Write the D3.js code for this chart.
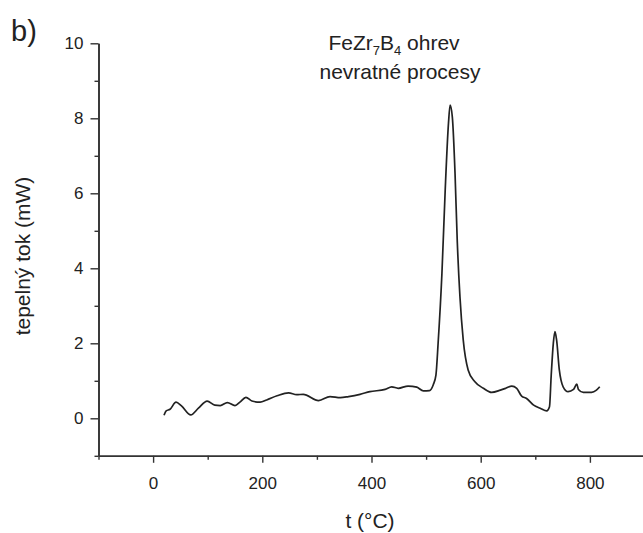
<!DOCTYPE html>
<html>
<head>
<meta charset="utf-8">
<script src="https://cdn.jsdelivr.net/npm/d3@7"></script>
<style>
  body { margin: 0; background: #fff; }
  svg text { font-family: "Liberation Sans", Arial, sans-serif; fill: #222; }
</style>
</head>
<body>
<svg id="chart" width="643" height="533"></svg>
<script>
// DSC heating curve
const tempC = [20, 24, 31, 42, 52, 69, 83, 99, 113, 123, 136, 150, 159, 170, 181, 196, 208, 227, 248, 263,
  275, 303, 324, 343, 358, 379, 397, 425, 437, 449, 467, 483, 495, 506, 513, 518, 522, 529, 535, 541,
  544, 548, 553, 557, 562, 568, 577, 589, 605, 620, 636, 646, 657, 666, 675, 684, 697, 709, 721, 726,
  729, 733, 736, 739, 744, 751, 760, 770, 776, 779, 788, 803, 812, 818];
const heatFlow = [0.08, 0.2, 0.24, 0.43, 0.33, 0.09, 0.27, 0.46, 0.35, 0.34, 0.42, 0.34, 0.43, 0.56, 0.46, 0.43, 0.49, 0.6, 0.68, 0.63,
  0.64, 0.47, 0.58, 0.55, 0.58, 0.64, 0.71, 0.77, 0.84, 0.8, 0.86, 0.83, 0.73, 0.74, 0.89, 1.15, 2.0, 3.87, 6.09, 7.87,
  8.35, 8.04, 6.53, 4.75, 3.24, 2.09, 1.29, 0.98, 0.8, 0.69, 0.75, 0.8, 0.86, 0.8, 0.59, 0.53, 0.35, 0.27, 0.2, 0.31,
  1.11, 2.0, 2.31, 2.09, 1.29, 0.84, 0.71, 0.77, 0.91, 0.77, 0.69, 0.69, 0.75, 0.84];

const xMajor = [0, 200, 400, 600, 800];
const xMinor = [-100, 100, 300, 500, 700];
const yMajor = [0, 2, 4, 6, 8, 10];
const yMinor = [-1, 1, 3, 5, 7, 9];

const svg = d3.select("#chart");

const x = d3.scaleLinear().domain([-100, 900]).range([98.5, 644.5]);
const y = d3.scaleLinear().domain([-1, 10]).range([455.8, 43.3]);

const data = tempC.map((t, i) => [t, heatFlow[i]]);

// axes
function styleAxis(g) {
  g.selectAll("path.domain").attr("stroke", "#333").attr("stroke-width", 1.6);
  g.selectAll(".tick line").attr("stroke", "#333").attr("stroke-width", 1.4);
  g.selectAll(".tick text").style("font-size", "17px").attr("fill", "#222");
}

svg.append("g")
  .attr("transform", `translate(0,${y(-1)})`)
  .call(d3.axisBottom(x).tickValues(xMinor).tickSize(4).tickSizeOuter(0).tickFormat(""))
  .call(styleAxis);

svg.append("g")
  .attr("transform", `translate(0,${y(-1)})`)
  .call(d3.axisBottom(x).tickValues(xMajor).tickSize(7).tickSizeOuter(0).tickPadding(14).tickFormat(d3.format("d")))
  .call(styleAxis);

svg.append("g")
  .attr("transform", `translate(${x(-100)},0)`)
  .call(d3.axisLeft(y).tickValues(yMinor).tickSize(4).tickSizeOuter(0).tickFormat(""))
  .call(styleAxis);

svg.append("g")
  .attr("transform", `translate(${x(-100)},0)`)
  .call(d3.axisLeft(y).tickValues(yMajor).tickSize(8).tickSizeOuter(0).tickPadding(7).tickFormat(d3.format("d")))
  .call(styleAxis);

// curve
const line = d3.line()
  .x(d => x(d[0]))
  .y(d => y(d[1]))
  .curve(d3.curveMonotoneX);

svg.append("path")
  .datum(data)
  .attr("d", line)
  .attr("fill", "none")
  .attr("stroke", "#222")
  .attr("stroke-width", 1.7)
  .attr("stroke-linejoin", "round");

// labels
svg.append("text")
  .attr("x", 11).attr("y", 41)
  .style("font-size", "29px")
  .text("b)");

const title = svg.append("text")
  .attr("x", 394).attr("y", 50)
  .attr("text-anchor", "middle")
  .style("font-size", "21px");
title.append("tspan").text("FeZr");
title.append("tspan").attr("dy", 5).style("font-size", "13px").text("7");
title.append("tspan").attr("dy", -5).text("B");
title.append("tspan").attr("dy", 5).style("font-size", "13px").text("4");
title.append("tspan").attr("dy", -5).text(" ohrev");

svg.append("text")
  .attr("x", 400).attr("y", 79)
  .attr("text-anchor", "middle")
  .style("font-size", "21px")
  .text("nevratné procesy");

svg.append("text")
  .attr("x", 370).attr("y", 528)
  .attr("text-anchor", "middle")
  .style("font-size", "21px")
  .text("t (°C)");

svg.append("text")
  .attr("transform", "translate(30,256) rotate(-90)")
  .attr("text-anchor", "middle")
  .style("font-size", "21px")
  .text("tepelný tok (mW)");
</script>
</body>
</html>
